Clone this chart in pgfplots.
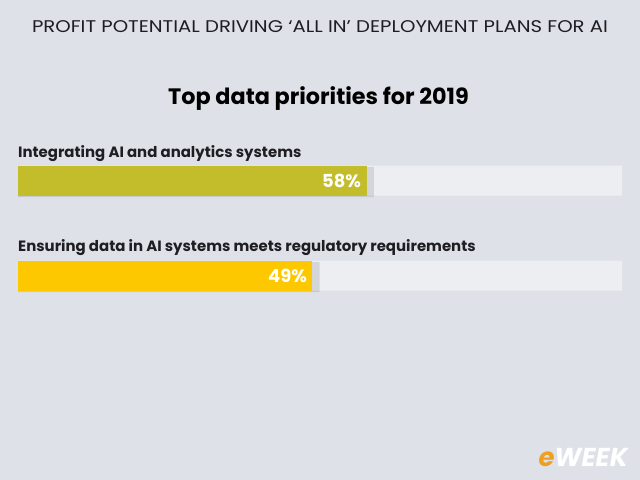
\documentclass[border=0pt]{standalone}
\usepackage{pgfplots}
\pgfplotsset{compat=1.18}
\usepackage{fontspec}
\setmainfont{Poppins}
\definecolor{bgc}{HTML}{DEE1E8}
\definecolor{barbg}{HTML}{ECEEF2}
\definecolor{oliveb}{HTML}{C3BC2B}
\definecolor{goldb}{HTML}{FDC800}
\definecolor{txt}{HTML}{1E1E22}
\definecolor{eorange}{HTML}{F0A020}
\begin{document}
\begin{tikzpicture}
\fill[bgc] (0,0) rectangle (640bp,-480bp);
\useasboundingbox (0,0) rectangle (640bp,-480bp);
\node[anchor=base, inner sep=0, text=txt] at (320bp,-32.7bp) {\scalebox{1.16}[1]{\fontsize{17}{20}\selectfont PROFIT POTENTIAL DRIVING ‘ALL IN’ DEPLOYMENT PLANS FOR AI}};
\node[anchor=base, inner sep=0, text=black] at (318.5bp,-104bp) {\bfseries\fontsize{22.4}{26}\selectfont Top data priorities for 2019};
\node[anchor=base west, inner sep=0, text=txt] at (18bp,-157bp) {\bfseries\fontsize{15}{18}\selectfont Integrating AI and analytics systems};
\node[anchor=base west, inner sep=0, text=txt] at (18bp,-251.7bp) {\bfseries\fontsize{15}{18}\selectfont Ensuring data in AI systems meets regulatory requirements};
\begin{axis}[at={(18bp,-133bp)}, anchor=north west, scale only axis,
  width=604bp, height=190bp, xmin=0, xmax=100.5, ymin=-0.5, ymax=1.5,
  y dir=reverse, axis lines=none, xbar, bar shift=0pt, bar width=30bp, clip=false,
  /pgf/number format/assume math mode=true]
\addplot[fill=barbg, draw=none] coordinates {(100.5,0) (100.5,1)};
\addplot[fill=black, fill opacity=0.10, draw=none, bar shift=-1.5bp] coordinates {(59.2,0) (50.2,1)};
\addplot[fill=oliveb, draw=none, point meta=x,
  nodes near coords={\pgfmathprintnumber{\pgfplotspointmeta}\%},
  nodes near coords style={anchor=east, xshift=-2bp, text=white, font=\bfseries\fontsize{18}{21}\selectfont}]
  coordinates {(58,0)};
\addplot[fill=goldb, draw=none, point meta=x,
  nodes near coords={\pgfmathprintnumber{\pgfplotspointmeta}\%},
  nodes near coords style={anchor=east, xshift=-2bp, text=white, font=\bfseries\fontsize{18}{21}\selectfont}]
  coordinates {(49,1)};
\end{axis}
\node[anchor=base east, inner sep=0, text=white] at (628bp,-466bp) {\bfseries\itshape\fontsize{26}{30}\selectfont {\color{eorange}e}WEEK};
\end{tikzpicture}
\end{document}
